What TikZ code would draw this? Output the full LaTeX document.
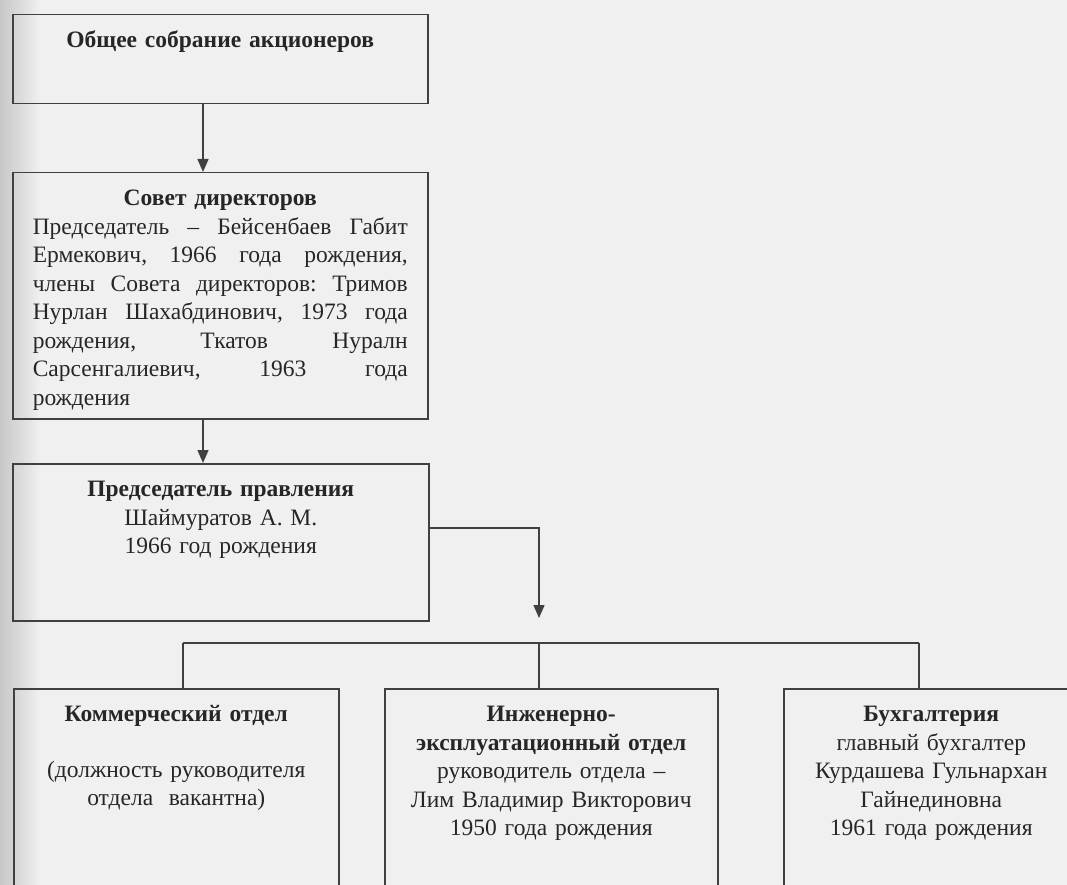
\documentclass[tikz,border=0pt]{standalone}
\usepackage{fontspec}
\setmainfont{Liberation Serif}
\usetikzlibrary{arrows.meta,positioning,calc}
\frenchspacing
\newcommand\jline[1]{\leavevmode\hbox to \hsize{\spaceskip=.25em plus 1fil\relax #1}}
\tikzset{blk/.style={draw=black!75,line width=1.5pt,anchor=north west,inner xsep=20pt,inner ysep=13pt,
    text height=20pt,align=center,text=black!85,font=\fontsize{23.5}{28.5}\selectfont}}

\begin{document}
\begin{tikzpicture}[x=1pt, y=-1pt, >={Triangle[length=13pt,width=11pt]}, line width=1.5pt]
        \useasboundingbox (0,0) rectangle (1067,885);
        \clip (0,0) rectangle (1067,885);
        \fill[black!6] (0,0) rectangle (1067,885);
        \shade[left color=black!22, right color=black!6] (0,0) rectangle (40,885);
        % management chain
        \node[blk, text width=375pt, text depth=43pt] (gsa) at (12,14) {\textbf{Общее собрание акционеров}};
        \node[blk, text width=375pt, text depth=200pt] (sd) at (12,172) {\textbf{Совет директоров}\\
            \jline{Председатель – Бейсенбаев Габит}\\
            \jline{Ермекович, 1966 года рождения,}\\
            \jline{члены Совета директоров: Тримов}\\
            \jline{Нурлан Шахабдинович, 1973 года}\\
            \jline{рождения, Ткатов Нуралн}\\
            \jline{Сарсенгалиевич, 1963 года}\\
            \makebox[\hsize][l]{рождения}};
        \node[blk, text width=376pt, text depth=111pt] (pr) at (12,463) {\textbf{Председатель правления}\\Шаймуратов А. М.\\1966 год рождения};
        % departments
        \node[blk, inner xsep=10pt, text width=305pt, text depth=184pt] (km) at (13,688) {\textbf{Коммерческий отдел}\\[27pt](должность руководителя\\отдела\ \ вакантна)};
        \node[blk, inner xsep=10pt, text width=313pt, text depth=184pt] (ie) at (384,688) {\textbf{Инженерно-}\\\textbf{эксплуатационный отдел}\\руководитель отдела –\\Лим Владимир Викторович\\1950 года рождения};
        \node[blk, inner xsep=10pt, text width=275pt, text depth=184pt] (bu) at (783,688) {\textbf{Бухгалтерия}\\главный бухгалтер\\Курдашева Гульнархан\\Гайнединовна\\1961 года рождения};
        % connectors
        \coordinate (ax) at (203,0);
        \coordinate (ey) at (0,528);
        \coordinate (tip) at (539,618);
        \coordinate (b1) at (183,643);
        \coordinate (b2) at (539,643);
        \coordinate (b3) at (919,643);
        \draw[->, black!75] (gsa.south -| ax) -- (sd.north -| ax);
        \draw[->, black!75] (sd.south -| ax) -- (pr.north -| ax);
        \draw[->, black!75] (pr.east |- ey) -| (tip);
        \draw[black!75] (b1) -- (b3);
        \draw[black!75] (b1) -- (b1 |- km.north);
        \draw[black!75] (b2) -- (b2 |- ie.north);
        \draw[black!75] (b3) -- (b3 |- bu.north);
\end{tikzpicture}
\end{document}
